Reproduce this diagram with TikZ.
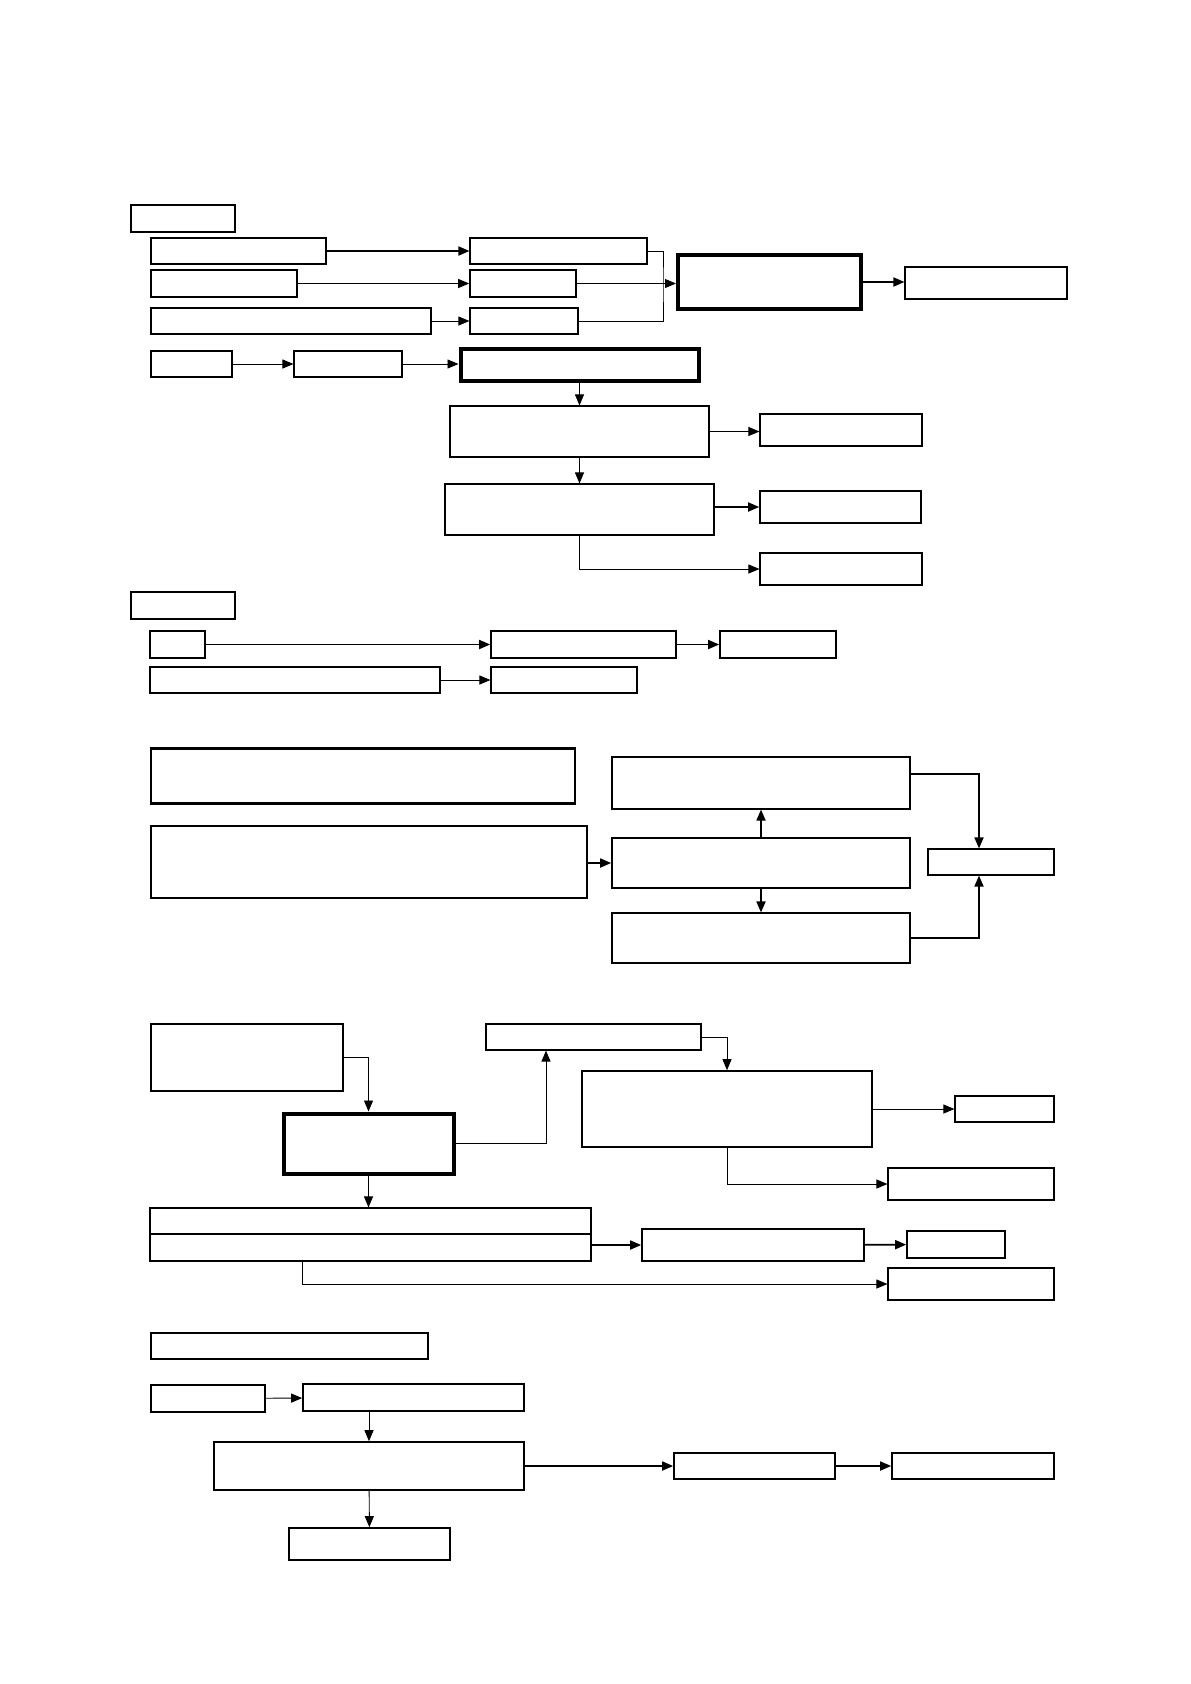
\documentclass[tikz,border=0pt]{standalone}
\usepackage{tikz}
\usetikzlibrary{arrows.meta,positioning}

\begin{document}
\begin{tikzpicture}[
    x=1pt, y=-1pt,
    box/.style={rectangle, draw, line width=1.1pt, inner sep=0pt},
    boxm/.style={box, line width=1.6pt},
    boxk/.style={box, line width=4pt},
    arr/.style={-{Triangle[length=11pt 0 0,width=9pt 0 0]}, line width=0.9pt},
    arrk/.style={arr, line width=1.7pt}
]
\useasboundingbox (0,0) rectangle (1191,1684);

% Block 1: title and input rows
\node[box, minimum width=104, minimum height=27] (ttl1) at (183,218.5) {};
\node[boxm, minimum width=175, minimum height=26] (r1l) at (238.5,251) {};
\node[box, minimum width=177, minimum height=26] (r1m) at (558.5,251) {};
\node[boxm, minimum width=146, minimum height=27] (r2l) at (224,283.5) {};
\node[boxm, minimum width=106, minimum height=27] (r2m) at (523,283.5) {};
\node[boxm, minimum width=280, minimum height=26] (r3l) at (291,321) {};
\node[box, minimum width=108, minimum height=26] (r3m) at (524,321) {};
\node[boxk, minimum width=183, minimum height=54] (big1) at (769.5,282) {};
\node[box, minimum width=162, minimum height=32] (out1) at (986,283) {};
\coordinate (jn) at (663,283);

\draw[arrk] (r1l) -- (r1m);
\draw[arr] (r2l) -- (r2m);
\draw[arr] (r3l) -- (r3m);
\draw[line width=0.9pt] (r1m.east) -| (jn) |- (r3m.east);
\draw[arr] (r2m) -- (r2m -| big1.west);
\draw[arrk] (big1.east) -- (big1.east -| out1.west);

% Block 1: main chain
\node[boxm, minimum width=81, minimum height=26] (r4a) at (191.5,364) {};
\node[box, minimum width=108, minimum height=26] (r4b) at (348,364) {};
\node[boxk, minimum width=238, minimum height=32] (main1) at (579.5,365) {};
\node[box, minimum width=259, minimum height=51] (c1) at (579.5,431.5) {};
\node[box, minimum width=162, minimum height=32] (d1) at (841,430) {};
\node[box, minimum width=269, minimum height=51] (c2) at (579.5,509.5) {};
\node[boxm, minimum width=161, minimum height=32] (d2) at (840.5,507) {};
\node[box, minimum width=162, minimum height=32] (d3) at (841,569) {};

\draw[arr] (r4a) -- (r4b);
\draw[arr] (r4b.east) -- (r4b.east -| main1.west);
\draw[arr] (main1) -- (c1);
\draw[arr] (c1) -- (c1 -| d1.west);
\draw[arr] (c1) -- (c2);
\draw[arrk] (c2.east |- d2) -- (d2);
\draw[arr] (c2.south) |- (d3);

% Block 2
\node[box, minimum width=104, minimum height=27] (ttl2) at (183,605.5) {};
\node[boxm, minimum width=55, minimum height=27] (e1) at (177.5,644.5) {};
\node[boxm, minimum width=185, minimum height=27] (e2) at (583.5,644.5) {};
\node[boxm, minimum width=116, minimum height=27] (e3) at (778,644.5) {};
\node[box, minimum width=290, minimum height=26] (f1) at (295,680) {};
\node[box, minimum width=146, minimum height=26] (f2) at (564,680) {};

\draw[arrk] (e1) -- (e2);
\draw[arrk] (e2) -- (e3);
\draw[arr] (f1) -- (f2);

% Block 3
\node[box, minimum width=424, minimum height=54] (g1) at (363,776) {};
\draw[line width=2.2pt] (g1.north west) -- (g1.north east) (g1.south west) -- (g1.south east);
\node[boxm, minimum width=436, minimum height=72] (g2) at (369,862) {};
\node[box, minimum width=298, minimum height=52] (h1) at (761,783) {};
\node[boxm, minimum width=298, minimum height=50] (h2) at (761,863) {};
\node[box, minimum width=298, minimum height=50] (h3) at (761,938) {};
\node[box, minimum width=126, minimum height=26] (j1) at (991,862) {};
\coordinate (jx) at (979,862);

\draw[arrk] (g2.east |- h2) -- (h2);
\draw[arrk] (h2) -- (h1);
\draw[arrk] (h2) -- (h3);
\draw[arrk] ([yshift=9pt]h1.east) -| (jx |- j1.north);
\draw[arrk] (h3.east) -| (jx |- j1.south);

% Block 4
\node[boxm, minimum width=192, minimum height=67] (k1) at (247,1057.5) {};
\node[boxk, minimum width=170, minimum height=60] (main2) at (368.5,1143.5) {};
\node[box, minimum width=215, minimum height=26] (l1) at (593.5,1037) {};
\node[boxm, minimum width=290, minimum height=76] (m1) at (727,1109) {};
\node[box, minimum width=99, minimum height=26] (n1) at (1004.5,1109) {};
\node[box, minimum width=166, minimum height=32] (n2) at (971,1184) {};
\node[box, minimum width=441, minimum height=26] (p1) at (370.5,1221) {};
\node[box, minimum width=441, minimum height=27] (p2) at (370.5,1247.5) {};
\node[boxm, minimum width=222, minimum height=32] (q1) at (753,1245) {};
\node[boxm, minimum width=98, minimum height=27] (q2) at (956,1244.5) {};
\node[box, minimum width=166, minimum height=32] (r1) at (971,1284) {};

\draw[arr] (k1) -| (main2);
\draw[arr] (main2) -| ([xshift=-47.5pt]l1.south);
\draw[arr] (l1) -| (m1);
\draw[arr] (m1) -- (n1);
\draw[arr] (m1) |- (n2);
\draw[arr] (main2.south) -- (main2.south |- p1.north);
\draw[arrk] (p2.east |- q1) -- (q1);
\draw[arrk] (q1) -- (q2);
\draw[arr] ([xshift=-68.5pt]p2.south) |- (r1);

% Block 5
\node[boxm, minimum width=277, minimum height=26] (ttl5) at (289.5,1346) {};
\node[boxm, minimum width=114, minimum height=27] (s1) at (208,1398.5) {};
\node[boxm, minimum width=221, minimum height=27] (s2) at (413.5,1397.5) {};
\node[boxm, minimum width=310, minimum height=48] (u1) at (369,1466) {};
\node[boxm, minimum width=161, minimum height=26] (v1) at (754.5,1466) {};
\node[boxm, minimum width=162, minimum height=26] (v2) at (973,1466) {};
\node[boxm, minimum width=161, minimum height=32] (w1) at (369.5,1544) {};

\draw[arr] (s1) -- (s2);
\draw[arr] (s2.south -| u1) -- (u1);
\draw[arrk] (u1) -- (v1);
\draw[arrk] (v1) -- (v2);
\draw[arr] (u1) -- (w1);

\end{tikzpicture}
\end{document}
